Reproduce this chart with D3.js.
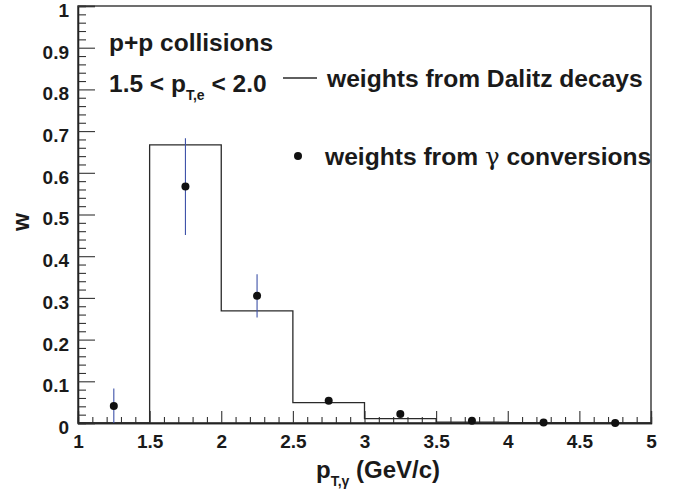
<!DOCTYPE html>
<html>
<head>
<meta charset="utf-8">
<script src="https://cdn.jsdelivr.net/npm/d3@7"></script>
<style>
  html, body { margin: 0; padding: 0; background: #fff; }
  svg { display: block; font-family: "Liberation Sans", Arial, Helvetica, sans-serif; }
</style>
</head>
<body>
<svg id="chart" width="678" height="497"></svg>
<script>
// ---- data ----
const binEdges = [1, 1.5, 2, 2.5, 3, 3.5, 4, 4.5, 5];
const dalitzWeights = [0, 0.667, 0.269, 0.0487, 0.0104, 0.002, 0.001, 0.0005];
const convX = [1.25, 1.75, 2.25, 2.75, 3.25, 3.75, 4.25, 4.75];
const convW = [0.041, 0.567, 0.305, 0.0535, 0.0216, 0.0056, 0.001, 0.0];
const convErr = [0.042, 0.116, 0.052, 0.007, 0.003, 0.002, 0.001, 0.001];
const xTicks = [1, 1.5, 2, 2.5, 3, 3.5, 4, 4.5, 5];
const yTicks = [0, 0.1, 0.2, 0.3, 0.4, 0.5, 0.6, 0.7, 0.8, 0.9, 1];

const svg = d3.select("#chart");
const x = d3.scaleLinear().domain([1, 5]).range([78, 651]);
const y = d3.scaleLinear().domain([0, 1]).range([423, 6]);

// frame
svg.append("rect").attr("x", x(1)).attr("y", y(1))
  .attr("width", x(5) - x(1)).attr("height", y(0) - y(1))
  .attr("fill", "none").attr("stroke", "#222").attr("stroke-width", 1.3);

// minor ticks
const xMinor = d3.range(1, 5.0001, 0.1).map(v => +v.toFixed(2)).filter(v => Math.abs(v*2 - Math.round(v*2)) > 1e-6);
const yMinor = d3.range(0, 1.0001, 0.02).map(v => +v.toFixed(3)).filter(v => Math.abs(v*10 - Math.round(v*10)) > 1e-6);

const gxMin = svg.append("g").attr("transform", `translate(0,${y(0)})`)
  .call(d3.axisBottom(x).tickValues(xMinor).tickSize(-6).tickFormat(""));
const gyMin = svg.append("g").attr("transform", `translate(${x(1)},0)`)
  .call(d3.axisLeft(y).tickValues(yMinor).tickSize(-8).tickFormat(""));

const gx = svg.append("g").attr("transform", `translate(0,${y(0)})`)
  .call(d3.axisBottom(x).tickValues(xTicks).tickSize(-12).tickPadding(12)
    .tickFormat(d => d3.format("")(d)));
const gy = svg.append("g").attr("transform", `translate(${x(1)},0)`)
  .call(d3.axisLeft(y).tickValues(yTicks).tickSize(-17).tickPadding(9)
    .tickFormat(d => d3.format("")(d)));

[gxMin, gyMin, gx, gy].forEach(g => {
  g.select(".domain").attr("stroke", "#222").attr("stroke-width", 1.3);
  g.selectAll(".tick line").attr("stroke", "#333").attr("stroke-width", 1.1);
});
[gx, gy].forEach(g => g.selectAll(".tick text")
  .attr("font-size", 19).attr("font-weight", "bold").attr("fill", "#1a1a1a")
  .attr("font-family", "'Liberation Sans', Arial, sans-serif"));
gy.selectAll(".tick text").attr("dy", "0.55em");

// histogram (Dalitz)
const histPts = binEdges.slice(0, -1).map((e, i) => [e, dalitzWeights[i]]);
histPts.push([binEdges[binEdges.length - 1], dalitzWeights[dalitzWeights.length - 1]]);
svg.append("path")
  .attr("d", d3.line().x(d => x(d[0])).y(d => y(d[1])).curve(d3.curveStepAfter)(histPts))
  .attr("fill", "none").attr("stroke", "#2a2a2a").attr("stroke-width", 1.3);

// conversion points with error bars
const pts = convX.map((v, i) => ({ x: v, w: convW[i], e: convErr[i] }));
svg.append("g").selectAll("line").data(pts).join("line")
  .attr("x1", d => x(d.x)).attr("x2", d => x(d.x))
  .attr("y1", d => y(Math.min(1, d.w + d.e))).attr("y2", d => y(Math.max(0, d.w - d.e)))
  .attr("stroke", "#3d52a8").attr("stroke-width", 1.1);
svg.append("g").selectAll("circle").data(pts).join("circle")
  .attr("cx", d => x(d.x)).attr("cy", d => y(d.w)).attr("r", 4)
  .attr("fill", "#111");

// texts
const bold = sel => sel.attr("font-weight", "bold").attr("fill", "#1a1a1a");
bold(svg.append("text").attr("x", 109).attr("y", 51).attr("font-size", 24.5).text("p+p collisions"));
const t2 = bold(svg.append("text").attr("x", 109).attr("y", 92).attr("font-size", 24.5));
t2.append("tspan").text("1.5 < p");
t2.append("tspan").attr("font-size", 14).attr("dy", 8).text("T,e");
t2.append("tspan").attr("dy", -8).text(" < 2.0");

// legend
svg.append("line").attr("x1", 283).attr("x2", 317).attr("y1", 78).attr("y2", 78)
  .attr("stroke", "#2a2a2a").attr("stroke-width", 1.3);
bold(svg.append("text").attr("x", 327).attr("y", 87).attr("font-size", 24.6).text("weights from Dalitz decays"));
svg.append("circle").attr("cx", 298).attr("cy", 156).attr("r", 4).attr("fill", "#111");
const t3 = bold(svg.append("text").attr("x", 325).attr("y", 165).attr("font-size", 24.6));
t3.append("tspan").text("weights from ");
t3.append("tspan").attr("font-weight", "normal").attr("font-family", "'DejaVu Serif', 'Liberation Serif', serif").text("γ");
t3.append("tspan").text(" conversions");

// axis titles
const xt = bold(svg.append("text").attr("x", 316).attr("y", 478).attr("font-size", 24));
xt.append("tspan").text("p");
xt.append("tspan").attr("font-size", 14).attr("dy", 8).text("T,γ");
xt.append("tspan").attr("dy", -8).text(" (GeV/c)");

bold(svg.append("text").attr("transform", "translate(29,222) rotate(-90)")
  .attr("text-anchor", "middle").attr("font-size", 23).text("w"));
</script>
</body>
</html>
